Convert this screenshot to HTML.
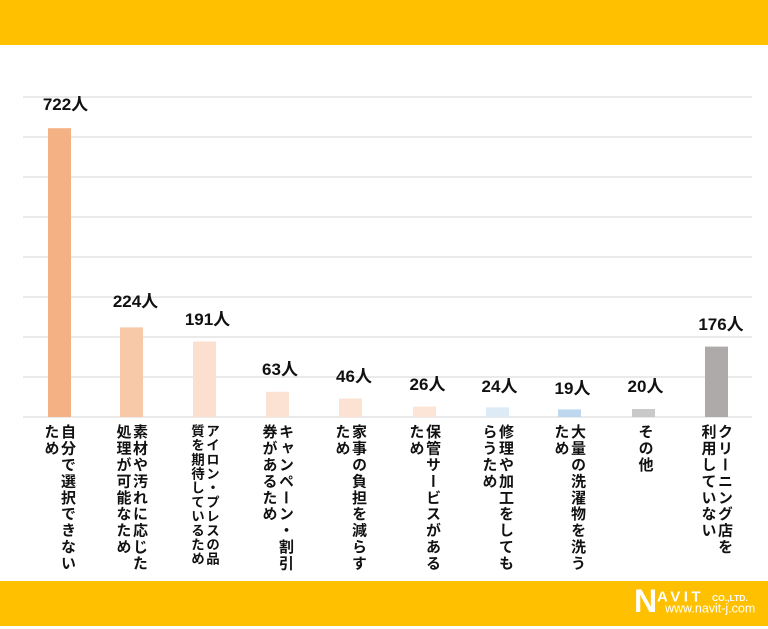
<!DOCTYPE html>
<html><head><meta charset="utf-8">
<style>
html,body{margin:0;padding:0;background:#fff;}
#w{position:relative;width:768px;height:629px;overflow:hidden;background:#fff;font-family:"Liberation Sans","Noto Sans CJK JP",sans-serif;}
svg{position:absolute;left:0;top:0;}
.c{position:absolute;top:424px;writing-mode:vertical-rl;font-family:"Noto Sans CJK JP","Liberation Sans",sans-serif;font-weight:700;font-size:15px;line-height:16.5px;letter-spacing:1.4px;color:#111;white-space:nowrap;}
.c2{width:33px;}
.c1{width:16.5px;}
</style></head><body>
<div id="w">
<svg width="768" height="629" viewBox="0 0 768 629" xmlns="http://www.w3.org/2000/svg">
<rect x="0" y="0" width="768" height="45" fill="#FFC000"/>
<rect x="0" y="581" width="768" height="45" fill="#FFC000"/>
<g stroke="#DDDDDD" stroke-width="1.2">
<line x1="23" y1="97" x2="752" y2="97"/>
<line x1="23" y1="137" x2="752" y2="137"/>
<line x1="23" y1="177" x2="752" y2="177"/>
<line x1="23" y1="217" x2="752" y2="217"/>
<line x1="23" y1="257" x2="752" y2="257"/>
<line x1="23" y1="297" x2="752" y2="297"/>
<line x1="23" y1="337" x2="752" y2="337"/>
<line x1="23" y1="377" x2="752" y2="377"/>
<line x1="23" y1="417" x2="752" y2="417"/>
</g>
<rect x="48" y="128.2" width="23" height="288.8" fill="#F4B183"/>
<rect x="120" y="327.4" width="23" height="89.6" fill="#F7C9A9"/>
<rect x="193" y="341.5" width="23" height="75.5" fill="#FBE0CF"/>
<rect x="266" y="391.8" width="23" height="25.2" fill="#FCE2D2"/>
<rect x="339" y="398.6" width="23" height="18.4" fill="#FCE2D2"/>
<rect x="413" y="406.6" width="23" height="10.4" fill="#FCE4D6"/>
<rect x="486" y="407.4" width="23" height="9.6" fill="#DDEBF7"/>
<rect x="558" y="409.4" width="23" height="7.6" fill="#BDD7EE"/>
<rect x="632" y="409" width="23" height="8" fill="#C9C9C9"/>
<rect x="705" y="346.6" width="23" height="70.4" fill="#AEAAAA"/>
<g font-family="'Liberation Sans','Noto Sans CJK JP',sans-serif" font-weight="700" font-size="17" fill="#111" text-anchor="middle">
<text x="65.5" y="110">722人</text>
<text x="135.5" y="307">224人</text>
<text x="207.5" y="325">191人</text>
<text x="280" y="375">63人</text>
<text x="354" y="382">46人</text>
<text x="427.5" y="390">26人</text>
<text x="499.5" y="392">24人</text>
<text x="572.5" y="394">19人</text>
<text x="645.5" y="392">20人</text>
<text x="721" y="330">176人</text>
</g>
<g fill="#fff" font-family="'Liberation Sans',sans-serif" font-weight="700">
<text x="634" y="612" font-size="32">N</text>
<text x="657" y="601.5" font-size="15" letter-spacing="3.5">AVIT</text>
<text x="712" y="601" font-size="8.5">CO.,LTD.</text>
<text x="665" y="612.5" font-size="12.5" font-weight="400">www.navit-j.com</text>
</g>
</svg>
<div class="c c2" style="left:43px;">自分で選択できない<br>ため</div>
<div class="c c2" style="left:115px;">素材や汚れに応じた<br>処理が可能なため</div>
<div class="c c2" style="left:190px;font-size:13.5px;letter-spacing:0.7px;line-height:15px;width:30px;">アイロン・プレスの品<br>質を期待しているため</div>
<div class="c c2" style="left:261px;">キャンペーン・割引<br>券があるため</div>
<div class="c c2" style="left:334px;">家事の負担を減らす<br>ため</div>
<div class="c c2" style="left:408px;">保管サービスがある<br>ため</div>
<div class="c c2" style="left:481px;">修理や加工をしても<br>らうため</div>
<div class="c c2" style="left:553px;">大量の洗濯物を洗う<br>ため</div>
<div class="c c1" style="left:637px;">その他</div>
<div class="c c2" style="left:700px;">クリーニング店を<br>利用していない</div>
</div>
</body></html>
